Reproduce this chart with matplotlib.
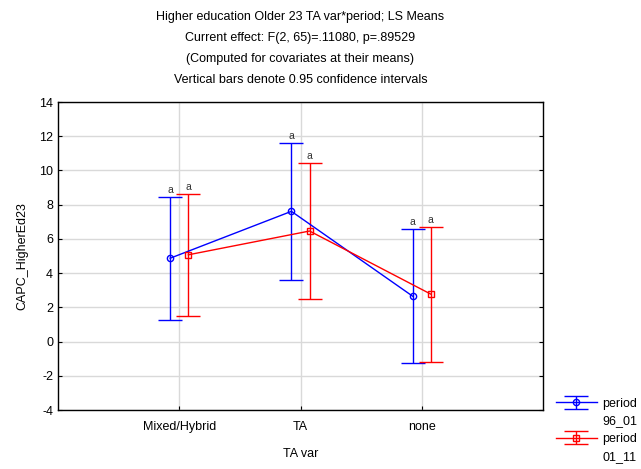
import numpy as np
import matplotlib
matplotlib.use("Agg")
import matplotlib.pyplot as plt
from matplotlib.lines import Line2D

plt.rcParams['font.family'] = ['Liberation Sans', 'DejaVu Sans']
plt.rcParams['axes.unicode_minus'] = False

# LS means and 95% CI half-widths per TA var level
categories = ["Mixed/Hybrid", "TA", "none"]
mean_96_01 = [4.87, 7.61, 2.65]
ci_96_01 = [3.60, 4.01, 3.93]
mean_01_11 = [5.07, 6.46, 2.77]
ci_01_11 = [3.58, 3.99, 3.94]
labels_96_01 = ["a", "a", "a"]
labels_01_11 = ["a", "a", "a"]

title_lines = ["Higher education Older 23 TA var*period; LS Means",
               "Current effect: F(2, 65)=.11080, p=.89529",
               "(Computed for covariates at their means)",
               "Vertical bars denote 0.95 confidence intervals"]

fig = plt.figure(figsize=(6.41, 4.69), dpi=100)
ax = fig.add_axes([58/641, 1-410/469, (543-58)/641, (410-102)/469])

x = np.arange(len(categories))
off = 0.075

eb1 = ax.errorbar(x - off, mean_96_01, yerr=ci_96_01, color='#0000ff', marker='o',
                  markersize=4.5, markerfacecolor='none', markeredgewidth=1.0,
                  lw=1.0, capsize=8.5, capthick=1.0, elinewidth=1.0, zorder=3)
eb2 = ax.errorbar(x + off, mean_01_11, yerr=ci_01_11, color='#ff0000', marker='s',
                  markersize=4.5, markerfacecolor='none', markeredgewidth=1.0,
                  lw=1.0, capsize=8.5, capthick=1.0, elinewidth=1.0, zorder=3)

for xi, m, c, t in zip(x - off, mean_96_01, ci_96_01, labels_96_01):
    ax.text(xi, m + c + 0.1, t, ha='center', va='bottom', fontsize=7.5, color='#333333')
for xi, m, c, t in zip(x + off, mean_01_11, ci_01_11, labels_01_11):
    ax.text(xi, m + c + 0.1, t, ha='center', va='bottom', fontsize=7.5, color='#333333')

ax.set_xlim(-1, 3)
ax.set_ylim(-4, 14)
ax.set_yticks(np.arange(-4, 15, 2))
ax.set_xticks(x)
ax.set_xticklabels(categories, fontsize=9)
ax.tick_params(axis='y', labelsize=9, direction='in', length=3, right=True, labelright=False)
ax.tick_params(axis='x', direction='in', length=3, pad=8)
ax.grid(True, color='#d9d9d9', lw=1.0, zorder=0)
ax.set_axisbelow(True)
for s in ax.spines.values():
    s.set_color('black')
    s.set_linewidth(1.0)

ax.set_xlabel("TA var", fontsize=9, labelpad=11)
ax.set_ylabel("CAPC_HigherEd23", fontsize=9, labelpad=8)

for i, line in enumerate(title_lines):
    fig.text(300.5/641, 1-(17 + 21*i)/469, line, ha='center', va='center', fontsize=9)

# legend: handle sits on the first line of each two-line label
blank = Line2D([], [], color='none')
ax.legend([eb1, blank, eb2, blank], ['period', '96_01', 'period', '01_11'],
          loc='upper left', bbox_to_anchor=(1.016, 0.056), frameon=False,
          fontsize=9, handlelength=3.3, labelspacing=0.45, borderaxespad=0,
          handletextpad=0.45)

fig.savefig("out.png", dpi=100)
